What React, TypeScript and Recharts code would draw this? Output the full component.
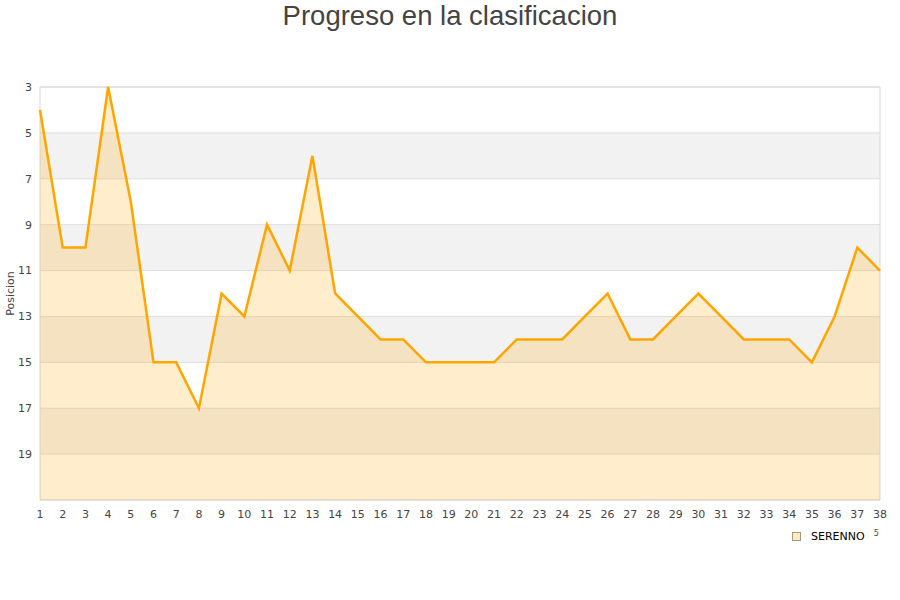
import {
  Area,
  AreaChart,
  CartesianGrid,
  ReferenceArea,
  XAxis,
  YAxis,
} from "recharts";

const jornadas = [
  1, 2, 3, 4, 5, 6, 7, 8, 9, 10, 11, 12, 13, 14, 15, 16, 17, 18, 19, 20, 21,
  22, 23, 24, 25, 26, 27, 28, 29, 30, 31, 32, 33, 34, 35, 36, 37, 38,
];
const posiciones = [
  4, 10, 10, 3, 8, 15, 15, 17, 12, 13, 9, 11, 6, 12, 13, 14, 14, 15, 15, 15, 15,
  14, 14, 14, 13, 12, 14, 14, 13, 12, 13, 14, 14, 14, 15, 13, 10, 11,
];
const yTicks = [3, 5, 7, 9, 11, 13, 15, 17, 19];
const yDomain = [3, 21];
const seriesName = "SERENNO";

const data = jornadas.map((j, i) => ({ jornada: j, posicion: posiciones[i] }));

const tickStyle = { fontSize: 11, fill: "#444", fontFamily: "DejaVu Sans" };

export default function App() {
  return (
    <div
      style={{
        position: "absolute",
        left: 0,
        top: 0,
        width: 900,
        height: 600,
        background: "#fff",
      }}
    >
      <div
        style={{
          position: "absolute",
          top: 0,
          width: 900,
          textAlign: "center",
          fontFamily: "Liberation Sans",
          fontSize: 27.5,
          color: "#444",
          lineHeight: "31px",
        }}
      >
        Progreso en la clasificacion
      </div>
      <AreaChart
        width={900}
        height={600}
        data={data}
        margin={{ top: 87, right: 20, bottom: 70, left: 0 }}
      >
        {/* alternating white / grey stripes like the original */}
        <CartesianGrid
          vertical={false}
          stroke="#dedede"
          horizontalFill={["#ffffff", "#f2f2f2"]}
          fillOpacity={1}
        />
        <ReferenceArea
          x1={1}
          x2={38}
          y1={3}
          y2={21}
          fill="none"
          stroke="#d8d8d8"
          ifOverflow="visible"
        />
        <XAxis
          dataKey="jornada"
          tickLine={false}
          axisLine={false}
          interval={0}
          tick={tickStyle}
          tickMargin={4}
          height={30}
        />
        <YAxis
          type="number"
          reversed
          domain={yDomain}
          ticks={yTicks}
          interval={0}
          tickLine={false}
          axisLine={false}
          tick={tickStyle}
          tickMargin={2}
          width={40}
          label={{
            value: "Posicion",
            angle: -90,
            position: "insideLeft",
            offset: 10,
            style: { fontSize: 11, fill: "#444", fontFamily: "DejaVu Sans", textAnchor: "middle" },
          }}
        />
        <Area
          type="linear"
          dataKey="posicion"
          name={seriesName}
          baseValue={21}
          stroke="#ffa500"
          strokeWidth={2.5}
          fill="#ffa500"
          fillOpacity={0.2}
          dot={false}
          activeDot={false}
          isAnimationActive={false}
        />
      </AreaChart>
      <div
        style={{
          position: "absolute",
          left: 792,
          top: 530,
          display: "flex",
          alignItems: "center",
          fontFamily: "DejaVu Sans",
          fontSize: 11,
          color: "#000",
        }}
      >
        <span
          style={{
            display: "inline-block",
            width: 7,
            height: 7,
            background: "#fdeac9",
            border: "1px solid #a89878",
            marginRight: 10,
          }}
        />
        <span>{seriesName}</span>
        <span style={{ fontSize: 8, color: "#444", marginLeft: 9, marginTop: -7 }}>5</span>
      </div>
    </div>
  );
}
